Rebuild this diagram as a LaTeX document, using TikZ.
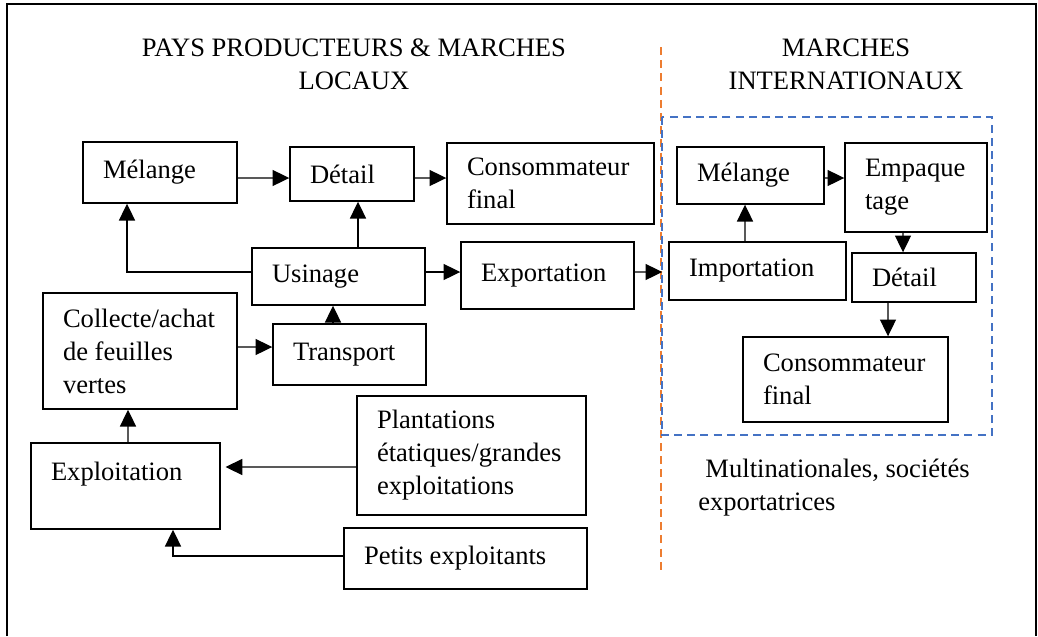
\documentclass[tikz,border=0pt]{standalone}
\usepackage{fontspec}
\setmainfont{Liberation Serif}
\usepackage{tikz}
\usetikzlibrary{shapes.geometric, arrows.meta}
\definecolor{sepline}{HTML}{ED7D31}
\definecolor{intl}{HTML}{4472C4}
\tikzstyle{stage} = [rectangle, 
inner xsep=0.5cm, 
inner ysep=0.05cm,
align=flush left, 
draw=black,
line width=1pt]
\tikzstyle{title} = [align=center]
\tikzstyle{arrow} = [line width=1pt,->,>={Triangle[length=0.42cm,width=0.4cm]}]
\tikzstyle{zone} = [draw=intl, line width=1.4pt, dash pattern=on 0.2cm off 0.13cm]
\tikzstyle{divider} = [draw=sepline, line width=1.4pt, dash pattern=on 0.2cm off 0.13cm]

\begin{document}
\begin{tikzpicture}[font=\fontsize{18.9}{23.5}\selectfont]
\useasboundingbox (0,0) rectangle (25.95,-15.9);
\draw [line width=2.1pt] (0.175,-15.9) -- (0.175,-0.1) -- (25.9,-0.1) -- (25.9,-15.9);
\draw [divider] (16.525,-1.175) -- (16.525,-14.3);
\draw [zone] (16.55,-2.925) rectangle (24.8,-10.875);

\node (titleL) [title, xshift=8.85cm, yshift=-1.61cm] {PAYS PRODUCTEURS \& MARCHES\\LOCAUX};
\node (titleR) [title, xshift=21.15cm, yshift=-1.61cm] {MARCHES\\INTERNATIONAUX};

\node (melL) [stage, text width=2.85cm, minimum height=1.525cm, xshift=4cm, yshift=-4.3125cm] {Mélange};
\node (detL) [stage, text width=2.1cm, minimum height=1.35cm, xshift=8.8cm, yshift=-4.35cm] {Détail};
\node (consL) [stage, text width=4.175cm, minimum height=2.025cm, xshift=13.7625cm, yshift=-4.5875cm] {Consommateur\\final};
\node (usin) [stage, text width=3.325cm, minimum height=1.425cm, xshift=8.4625cm, yshift=-6.9125cm] {Usinage};
\node (expo) [stage, text width=3.325cm, minimum height=1.675cm, xshift=13.6875cm, yshift=-6.8875cm] {Exportation};
\node (coll) [stage, text width=3.85cm, minimum height=2.9cm, xshift=3.5cm, yshift=-8.775cm] {Collecte/achat\\de feuilles\\vertes};
\node (trans) [stage, text width=2.825cm, minimum height=1.525cm, xshift=8.7375cm, yshift=-8.8625cm] {Transport};
\node (explo) [stage, text width=3.725cm, minimum height=2.15cm, text height=0.45cm, text depth=0.75cm, xshift=3.1375cm, yshift=-12.15cm] {Exploitation};
\node (plant) [stage, text width=4.725cm, minimum height=2.975cm, xshift=11.7875cm, yshift=-11.3875cm] {Plantations\\étatiques/grandes\\exploitations};
\node (petit) [stage, text width=5.075cm, minimum height=1.525cm, xshift=11.6375cm, yshift=-13.9625cm] {Petits exploitants};

\node (melR) [stage, text width=2.675cm, minimum height=1.425cm, xshift=18.7625cm, yshift=-4.3875cm] {Mélange};
\node (empa) [stage, text width=2.55cm, minimum height=2.225cm, xshift=22.9cm, yshift=-4.6875cm] {Empaque\\tage};
\node (impo) [stage, text width=3.425cm, minimum height=1.45cm, xshift=18.9375cm, yshift=-6.775cm] {Importation};
\node (detR) [stage, text width=2.1cm, minimum height=1.225cm, xshift=22.85cm, yshift=-6.9375cm] {Détail};
\node (consR) [stage, text width=4.125cm, minimum height=2.125cm, xshift=21.1375cm, yshift=-9.4875cm] {Consommateur\\final};

\node (firms) [align=left, anchor=north west, inner sep=0pt, xshift=17.45cm, yshift=-11.47cm] {\hspace*{0.18cm}Multinationales, sociétés\\exportatrices};

\draw [arrow] ([yshift=-0.1375cm]melL.east) -- ([yshift=-0.1cm]detL.west);
\draw [arrow] ([yshift=-0.1cm]detL.east) -- ([yshift=0.1375cm]consL.west);
\draw [arrow] ([xshift=0.4875cm]usin.north) -- ([xshift=0.15cm]detL.south);
\draw [arrow] ([yshift=0.1125cm]usin.west) -| ([xshift=-0.825cm]melL.south);
\draw [arrow] ([yshift=0.1125cm]usin.east) -- ([yshift=0.0875cm]expo.west);
\draw [arrow] ([xshift=-0.4125cm]trans.north) -- ([xshift=-0.1375cm]usin.south);
\draw [arrow] ([yshift=0.1cm]coll.east) -- ([yshift=0.1875cm]trans.west);
\draw [arrow] ([xshift=0.0625cm]explo.north) -- ([xshift=-0.3cm]coll.south);
\draw [arrow, shorten >=0.12cm] ([yshift=-0.2875cm]plant.west) -- ([yshift=0.475cm]explo.east);
\draw [arrow] ([yshift=0.0625cm]petit.west) -| ([xshift=1.1875cm]explo.south);
\draw [arrow, shorten >=0.15cm] ([yshift=0.0875cm]expo.east) -- ([yshift=-0.025cm]impo.west);
\draw [arrow] ([xshift=-0.3125cm]impo.north) -- ([xshift=-0.1375cm]melR.south);
\draw [arrow] ([yshift=-0.0625cm]melR.east) -- ([yshift=0.2375cm]empa.west);
\draw [arrow] ([xshift=-0.325cm]empa.south) -- ([xshift=-0.275cm]detR.north);
\draw [arrow] ([xshift=-0.65cm]detR.south) -- ([xshift=1.0625cm]consR.north);

\end{tikzpicture}
\end{document}
